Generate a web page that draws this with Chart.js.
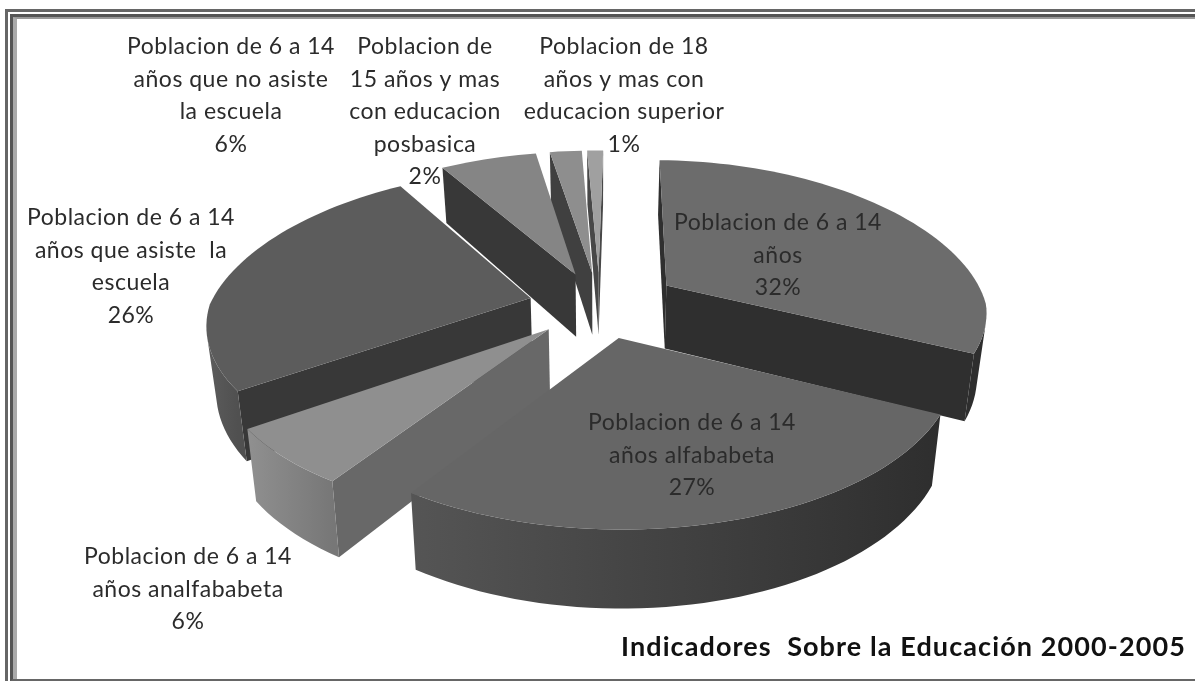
<!DOCTYPE html>
<html lang="es">
<head>
<meta charset="utf-8">
<title>Indicadores Sobre la Educación 2000-2005</title>
<script src="https://cdn.jsdelivr.net/npm/chart.js@4"></script>
<style>
    html, body { margin: 0; padding: 0; background: #fff; overflow: hidden; width: 1195px; height: 681px; }
    canvas { position: absolute; left: 0; top: 0; }
    .frame { position: absolute; box-sizing: border-box; }
    .frame.outer { left: 5px; top: 9px; width: 1200px; height: 700px; border-left: 3px solid #666; border-top: 3px solid #666; }
    .frame.inner { left: 10px; top: 14px; width: 1200px; height: 667px; border-left: 3px solid #555; border-top: 3px solid #555; border-bottom: 2px solid #666; }
    .frame.soft { left: 13px; top: 17px; width: 1200px; height: 662px; border-left: 4px solid #aaa; border-top: 2px solid #999; }
</style>
</head>
<body>
<div class="frame outer"></div>
<div class="frame inner"></div>
<div class="frame soft"></div>
<canvas id="pieChart" width="1195" height="681"></canvas>
<script>
// Chart data
const labelLines = [
    ['Poblacion de 6 a 14', 'años'],
    ['Poblacion de 6 a 14', 'años alfababeta'],
    ['Poblacion de 6 a 14', 'años analfababeta'],
    ['Poblacion de 6 a 14', 'años que asiste  la', 'escuela'],
    ['Poblacion de 6 a 14', 'años que no asiste', 'la escuela'],
    ['Poblacion de', '15 años y mas', 'con educacion', 'posbasica'],
    ['Poblacion de 18', 'años y mas con', 'educacion superior']
];
const categories = labelLines.map(lines => lines.join(' '));
const percentValues = [32, 27, 6, 26, 6, 2, 1];
const chartTitle = 'Indicadores  Sobre la Educación 2000-2005';

// Styles
const topColors = ['#6c6c6c', '#666666', '#8f8f8f', '#5c5c5c', '#858585', '#8e8e8e', '#a0a0a0'];
const radialWallColors = ['#2f2f2f', '#333333', '#686868', '#383838', '#383838', '#404040', '#484848'];
const outerWallFrom = ['#2e2e2e', '#2e2e2e', '#777777', '#505050', '#383838', '#404040', '#484848'];
const outerWallTo = ['#2e2e2e', '#555555', '#909090', '#5c5c5c', '#383838', '#404040', '#484848'];
const explodeOffsets = [68, 60, 60, 60, 60, 60, 60];
const labelAnchors = [[778, 223], [692, 423], [188, 557], [131, 218], [231, 47], [425, 47], [624, 47]];
const LABEL_LINE_HEIGHT = 32.4;

// Perspective of the pie plane, relative to the arc radius
const TILT = { scaleX: 1.184, scaleY: 0.555, depth: 0.237, perspective: 0.155, backNarrow: 0.21, converge: 0.975 };

class Pie3dController extends Chart.PieController {
    project(arc, X, Y, onBottom) {
        const { x: cx, y: cy, outerRadius: r } = arc.getProps(['x', 'y', 'outerRadius']);
        const s = 1 / (1 - TILT.perspective * Y);
        // The far side of the pie narrows faster than it flattens
        const sx = Y < 0 ? 1 / (1 - TILT.backNarrow * Y) : s;
        let px = X * r * TILT.scaleX * sx;
        let py = Y * r * TILT.scaleY * s;
        if (onBottom) {
            px *= TILT.converge;
            py += r * TILT.depth * s;
        }
        return [cx + px, cy + py];
    }

    // Faces turned away from the viewer have a positive area on screen
    isFacing(a, b, c, d) {
        const pts = [a, b, c, d];
        let area = 0;
        pts.forEach((p, i) => {
            const q = pts[(i + 1) % 4];
            area += p[0] * q[1] - q[0] * p[1];
        });
        return area < 0;
    }

    fillPolygon(ctx, pts, fill) {
        ctx.fillStyle = fill;
        ctx.beginPath();
        pts.forEach((p, i) => (i ? ctx.lineTo(p[0], p[1]) : ctx.moveTo(p[0], p[1])));
        ctx.closePath();
        ctx.fill();
    }

    drawSlice(ctx, arc, index) {
        const { startAngle, endAngle, outerRadius } = arc.getProps(['startAngle', 'endAngle', 'outerRadius']);
        const mid = (startAngle + endAngle) / 2;
        const e = arc.options.offset / outerRadius;
        const ax = e * Math.cos(mid);
        const ay = e * Math.sin(mid);
        const steps = Math.max(4, Math.round((endAngle - startAngle) * 30));
        const rim = [];
        for (let i = 0; i <= steps; i++) {
            const a = startAngle + (endAngle - startAngle) * i / steps;
            rim.push([ax + Math.cos(a), ay + Math.sin(a)]);
        }
        const top = ([X, Y]) => this.project(arc, X, Y, false);
        const bottom = ([X, Y]) => this.project(arc, X, Y, true);
        const apex = [ax, ay];

        // Radial walls
        const first = rim[0];
        const last = rim[steps];
        [[apex, first], [last, apex]].forEach(([p, q]) => {
            if (this.isFacing(top(p), top(q), bottom(q), bottom(p))) {
                this.fillPolygon(ctx, [top(p), top(q), bottom(q), bottom(p)], radialWallColors[index]);
            }
        });

        // Outer wall, shaded along the visible part of the rim
        const visible = rim.filter((p, i) => {
            const q = rim[i + 1] || rim[i - 1];
            return i === steps
                ? this.isFacing(top(rim[i - 1]), top(p), bottom(p), bottom(rim[i - 1]))
                : this.isFacing(top(p), top(q), bottom(q), bottom(p));
        });
        if (visible.length > 1) {
            const x0 = top(visible[0])[0];
            const x1 = top(visible[visible.length - 1])[0];
            const shade = ctx.createLinearGradient(x0, 0, x1, 0);
            shade.addColorStop(0, outerWallFrom[index]);
            shade.addColorStop(1, outerWallTo[index]);
            this.fillPolygon(ctx, [...visible.map(top), ...visible.slice().reverse().map(bottom)], shade);
        }

        // Top face
        this.fillPolygon(ctx, [top(apex), ...rim.map(top)], arc.options.backgroundColor);
    }

    draw() {
        const ctx = this.chart.ctx;
        const arcs = this._cachedMeta.data;
        // Paint from the back of the pie to the front
        const depth = arc => {
            const p = arc.getProps(['startAngle', 'endAngle']);
            return Math.sin((p.startAngle + p.endAngle) / 2);
        };
        const order = arcs.map((arc, i) => i).sort((a, b) => depth(arcs[a]) - depth(arcs[b]));
        ctx.save();
        order.forEach(i => this.drawSlice(ctx, arcs[i], i));
        ctx.restore();
    }
}
Pie3dController.id = 'pie3d';
Pie3dController.defaults = Chart.PieController.defaults;
Pie3dController.overrides = Chart.PieController.overrides;
Chart.register(Pie3dController);

const sliceLabels = {
    id: 'sliceLabels',
    beforeDraw(chart) {
        // The title box picks this up when it draws
        chart.ctx.letterSpacing = '1.1px';
    },
    beforeDatasetsDraw(chart) {
        chart.ctx.letterSpacing = '0px';
    },
    afterDraw(chart) {
        const ctx = chart.ctx;
        ctx.save();
        ctx.font = '23px Lato';
        ctx.letterSpacing = '0.5px';
        ctx.fillStyle = '#2b2b2b';
        ctx.textAlign = 'center';
        ctx.textBaseline = 'middle';
        labelLines.forEach((lines, i) => {
            const [x, y] = labelAnchors[i];
            [...lines, percentValues[i] + '%'].forEach((line, n) => {
                ctx.fillText(line, x, y + n * LABEL_LINE_HEIGHT);
            });
        });
        ctx.restore();
    }
};

new Chart(document.getElementById('pieChart'), {
    type: 'pie3d',
    data: {
        labels: categories,
        datasets: [{
            data: percentValues,
            backgroundColor: topColors,
            offset: explodeOffsets,
            borderWidth: 0
        }]
    },
    options: {
        responsive: false,
        animation: false,
        events: [],
        rotation: 1,
        layout: { padding: { left: 13, right: 9, top: 0, bottom: 18 } },
        plugins: {
            legend: { display: false },
            tooltip: { enabled: false },
            title: {
                display: true,
                text: chartTitle,
                position: 'bottom',
                align: 'end',
                color: '#111111',
                font: { family: 'Lato', size: 27, weight: 'bold' },
                padding: { top: 21, bottom: 0 }
            }
        }
    },
    plugins: [sliceLabels]
});
</script>
</body>
</html>
